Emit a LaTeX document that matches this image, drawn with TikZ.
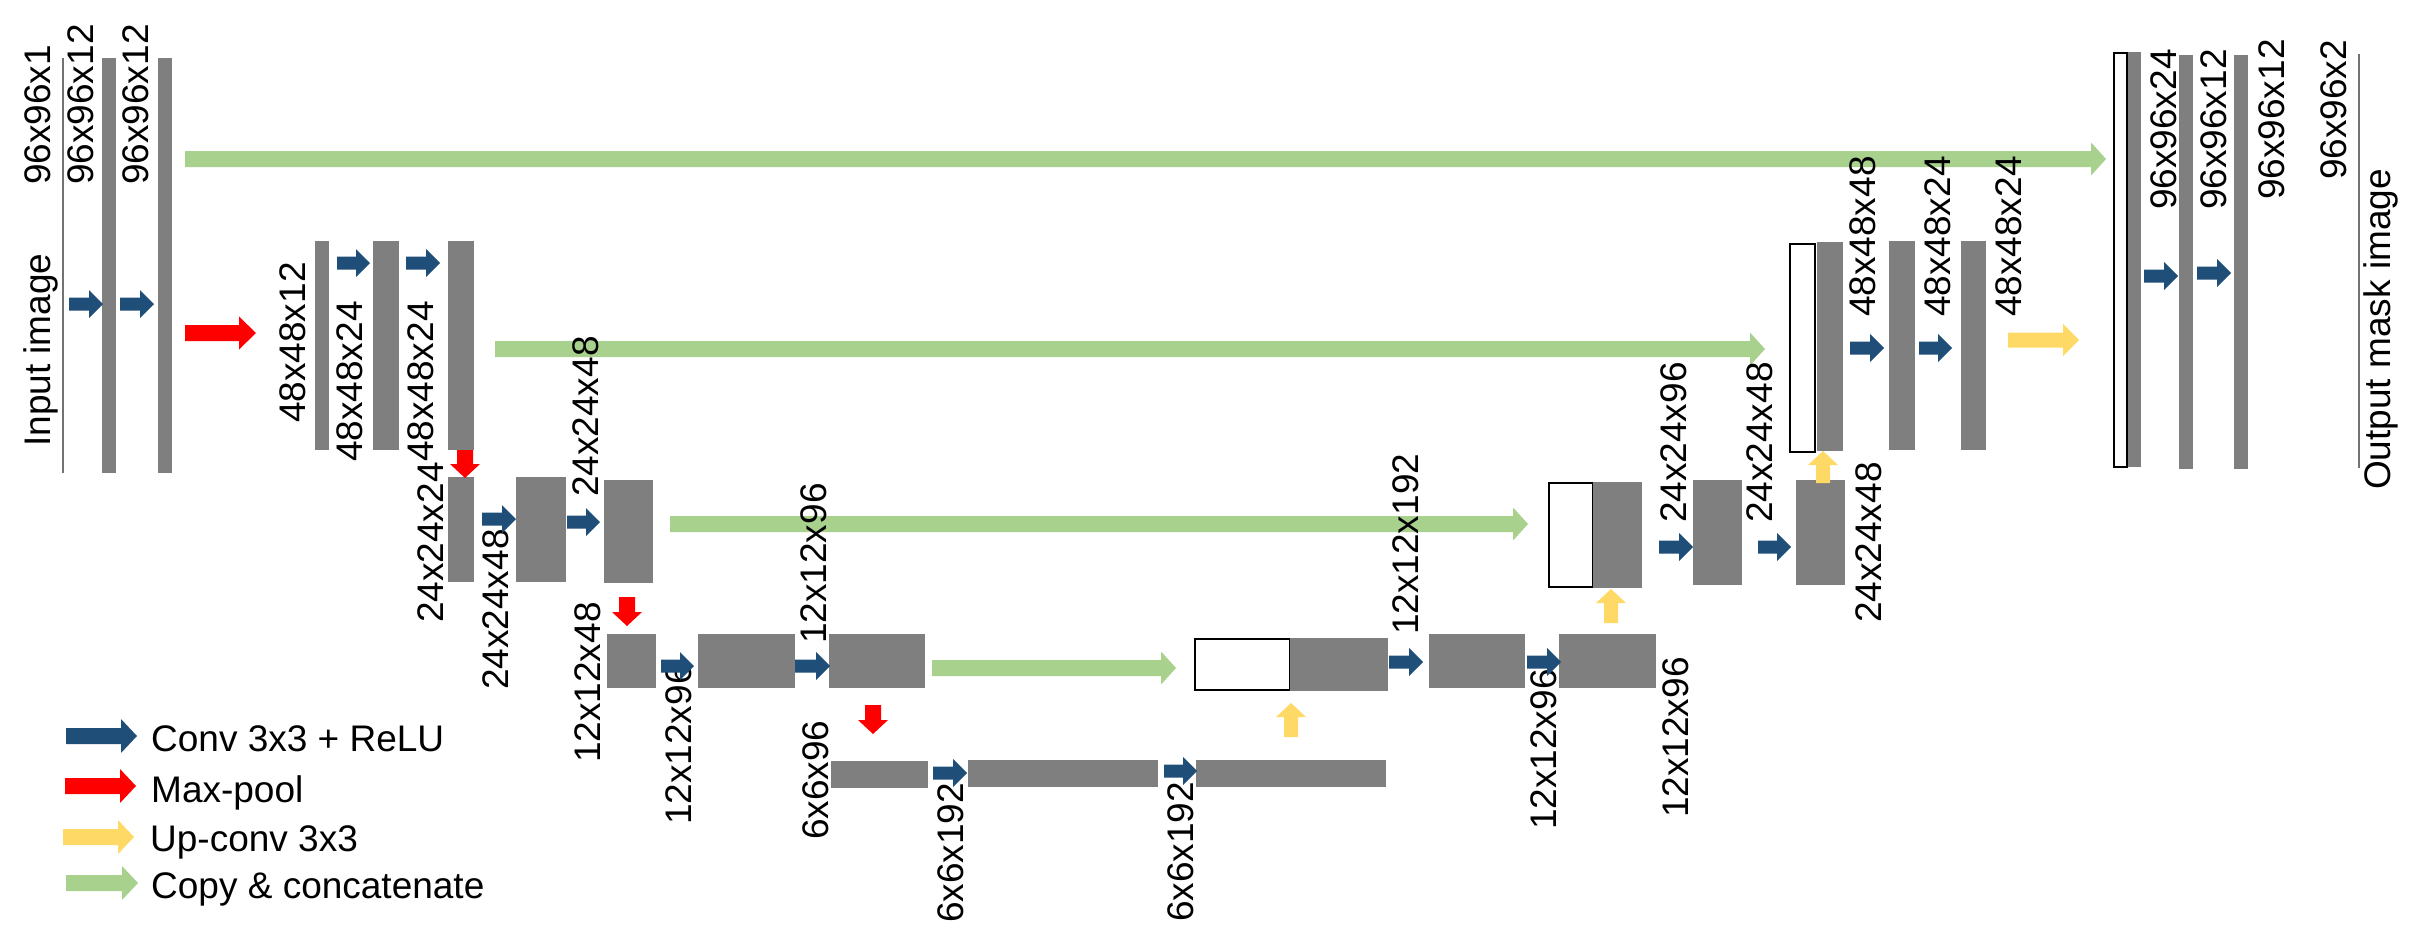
\documentclass[tikz,border=0pt]{standalone}
\usepackage{fontspec}
\setmainfont{Liberation Sans}
\definecolor{barg}{HTML}{7F7F7F}
\definecolor{convc}{HTML}{1F4E79}
\definecolor{poolc}{HTML}{FF0000}
\definecolor{upc}{HTML}{FFD966}
\definecolor{copyc}{HTML}{A9D18E}
\newcommand\lab{\fontsize{37}{44}\selectfont}
% bar node: [style]{name}{x1}{y1}{x2}{y2}
\newcommand\mkbar[6][bar]{\node[#1, minimum width={#5pt-#3pt}, minimum height={#6pt-#4pt}] (#2) at ({(#3+#5)/2},{(#4+#6)/2}) {};}
% horizontal block arrow: x1 x2 y shafthalf headhalf headlen color
\newcommand\blkH[7]{\fill[#7] (#1,{#3-#4}) -- ({#2-#6},{#3-#4}) -- ({#2-#6},{#3-#5}) -- (#2,#3) -- ({#2-#6},{#3+#5}) -- ({#2-#6},{#3+#4}) -- (#1,{#3+#4}) -- cycle;}
% vertical block arrow: x y1 ytip shafthalf headhalf headlen(signed) color
\newcommand\blkV[7]{\fill[#7] ({#1-#4},#2) -- ({#1-#4},{#3-#6}) -- ({#1-#5},{#3-#6}) -- (#1,#3) -- ({#1+#5},{#3-#6}) -- ({#1+#4},{#3-#6}) -- ({#1+#4},#2) -- cycle;}
\newcommand\blkConv[3]{\blkH{#1}{#2}{#3}{6.5}{14}{14}{convc}}
\newcommand\blkCopy[3]{\blkH{#1}{#2}{#3}{8}{16.5}{15}{copyc}}
\newcommand\blkDown[3]{\blkV{#1}{#2}{#3}{8}{15}{14}{poolc}}
\newcommand\blkUp[3]{\blkV{#1}{#2}{#3}{7}{15}{-14}{upc}}
\tikzset{
  bar/.style={fill=barg, draw=none, inner sep=0pt, outer sep=0pt},
  thinbar/.style={fill=barg!90!black, draw=none, inner sep=0pt, outer sep=0pt},
  wbox/.style={fill=white, draw=black, line width=1.8pt, inner sep=0pt, outer sep=0pt},
  dimlbl/.style={rotate=90, anchor=base west, inner sep=0pt, font=\lab},
  leglbl/.style={anchor=base west, inner sep=0pt, font=\lab}
}
\begin{document}
\begin{tikzpicture}[x=1pt,y=-1pt]
\path[use as bounding box, fill=white] (0,0) rectangle (2425,948);

% copy & concatenate arrows (behind)
\blkCopy{185}{2106}{159}
\blkCopy{495}{1765}{349}
\blkCopy{670}{1528}{524}
\blkCopy{932}{1176}{668}

% encoder bars
\mkbar[thinbar]{in}{62}{58}{64}{473}
\mkbar{b11}{102}{58}{116}{473}
\mkbar{b12}{158}{58}{172}{473}
\mkbar{b21}{315}{241}{329}{450}
\mkbar{b22}{373}{241}{399}{450}
\mkbar{b23}{448}{241}{474}{450}
\mkbar{b31}{448}{477}{474}{582}
\mkbar{b32}{516}{477}{566}{582}
\mkbar{b33}{604}{480}{653}{583}
\mkbar{b41}{607}{634}{656}{688}
\mkbar{b42}{698}{634}{795}{688}
\mkbar{b43}{829}{634}{925}{688}
\mkbar{b51}{831}{761}{928}{788}
\mkbar{b52}{968}{760}{1158}{787}
\mkbar{b53}{1196}{760}{1386}{787}
% decoder
\mkbar[wbox]{w4}{1195}{639}{1290}{690}
\mkbar{u41}{1290}{638}{1388}{691}
\mkbar{u42}{1429}{634}{1525}{688}
\mkbar{u43}{1559}{634}{1656}{688}
\mkbar[wbox]{w3}{1549}{483}{1593}{587}
\mkbar{u31}{1593}{482}{1642}{588}
\mkbar{u32}{1693}{480}{1742}{585}
\mkbar{u33}{1796}{480}{1845}{585}
\mkbar[wbox]{w2}{1790}{244}{1815}{452}
\mkbar{u21}{1817}{242}{1843}{451}
\mkbar{u22}{1889}{241}{1915}{450}
\mkbar{u23}{1961}{241}{1986}{450}
\mkbar[wbox]{w1}{2114}{53}{2127}{467}
\mkbar{u11}{2128}{52}{2141}{467}
\mkbar{u12}{2179}{55}{2193}{469}
\mkbar{u13}{2234}{55}{2248}{469}
\mkbar[thinbar]{out}{2358}{54}{2360}{468}

% dimension labels
\node[dimlbl] (l01) at (50,185) {96x96x1};
\node[dimlbl] (l02) at (93,185) {96x96x12};
\node[dimlbl] (l03) at (148,185) {96x96x12};
\node[dimlbl] (l04) at (50,447) {Input image};
\node[dimlbl] (l05) at (305,423) {48x48x12};
\node[dimlbl] (l06) at (362,462) {48x48x24};
\node[dimlbl] (l07) at (433,462) {48x48x24};
\node[dimlbl] (l08) at (443,623) {24x24x24};
\node[dimlbl] (l09) at (508,690) {24x24x48};
\node[dimlbl] (l10) at (598,497) {24x24x48};
\node[dimlbl] (l11) at (600,763) {12x12x48};
\node[dimlbl] (l12) at (691,825) {12x12x96};
\node[dimlbl] (l13) at (826,644) {12x12x96};
\node[dimlbl] (l14) at (828,840) {6x6x96};
\node[dimlbl] (l15) at (963,923) {6x6x192};
\node[dimlbl] (l16) at (1193,922) {6x6x192};
\node[dimlbl] (l17) at (1418,635) {12x12x192};
\node[dimlbl] (l18) at (1556,830) {12x12x96};
\node[dimlbl] (l19) at (1688,818) {12x12x96};
\node[dimlbl] (l20) at (1686,523) {24x24x96};
\node[dimlbl] (l21) at (1772,523) {24x24x48};
\node[dimlbl] (l22) at (1881,623) {24x24x48};
\node[dimlbl] (l23) at (1875,317) {48x48x48};
\node[dimlbl] (l24) at (1950,317) {48x48x24};
\node[dimlbl] (l25) at (2021,317) {48x48x24};
\node[dimlbl] (l26) at (2176,210) {96x96x24};
\node[dimlbl] (l27) at (2226,210) {96x96x12};
\node[dimlbl] (l28) at (2284,200) {96x96x12};
\node[dimlbl] (l29) at (2346,180) {96x96x2};
\node[dimlbl] (l30) at (2390,490) {Output mask image};

% conv arrows
\blkConv{69}{103}{304}
\blkConv{120}{154}{304}
\blkConv{337}{370}{263}
\blkConv{406}{440}{263}
\blkConv{482}{516}{519}
\blkConv{567}{600}{522}
\blkConv{661}{694}{666}
\blkConv{795}{830}{666}
\blkConv{933}{967}{773}
\blkConv{1164}{1197}{771}
\blkConv{1389}{1423}{662}
\blkConv{1527}{1561}{662}
\blkConv{1659}{1693}{547}
\blkConv{1758}{1791}{547}
\blkConv{1850}{1884}{348}
\blkConv{1919}{1952}{348}
\blkConv{2144}{2178}{276}
\blkConv{2197}{2231}{273}

% max-pool arrows
\blkH{185}{256}{333}{8}{16.5}{17}{poolc}
\blkDown{465}{450}{478}
\blkDown{627}{597}{626}
\blkDown{873}{705}{734}

% up-conv arrows
\blkUp{1291}{737}{703}
\blkUp{1611}{623}{589}
\blkUp{1823}{483}{451}
\blkH{2008}{2079}{340}{7.5}{16}{16}{upc}

% legend
\blkH{66}{137}{736}{8}{17}{16}{convc}
\blkH{65}{136}{786}{8}{17}{16}{poolc}
\blkH{63}{134}{837}{8}{17}{16}{upc}
\blkH{66}{138}{883}{8}{17}{16}{copyc}
\node[leglbl] (leg1) at (151,751) {Conv 3x3 + ReLU};
\node[leglbl] (leg2) at (151,802) {Max-pool};
\node[leglbl] (leg3) at (150,851) {Up-conv 3x3};
\node[leglbl] (leg4) at (151,898) {Copy \& concatenate};
\end{tikzpicture}
\end{document}
